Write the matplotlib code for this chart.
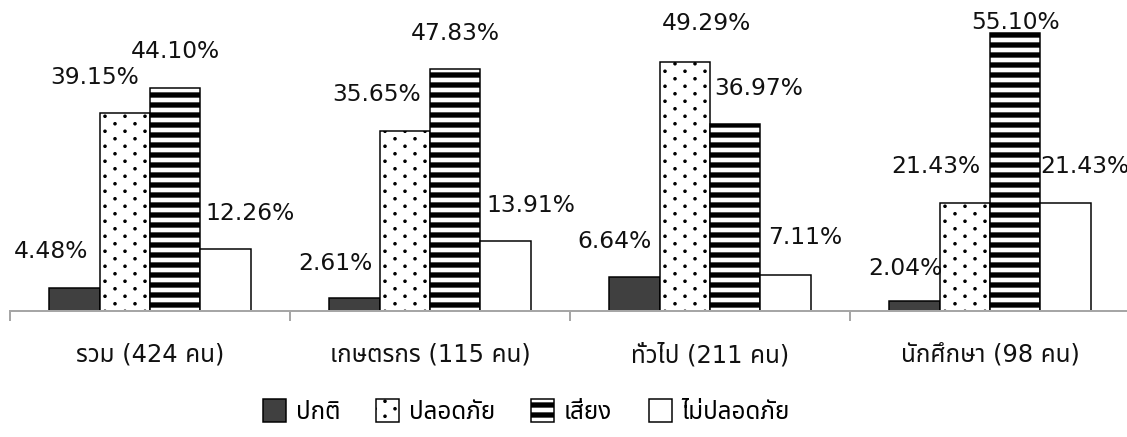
import matplotlib
matplotlib.use("Agg")
import matplotlib.pyplot as plt
from matplotlib import font_manager as fm
from matplotlib import hatch as mhatch
from matplotlib.path import Path
from matplotlib.patches import Patch
import numpy as np

# ---------------- data ----------------
categories = ["รวม (424 คน)", "เกษตรกร (115 คน)", "ทั่วไป (211 คน)", "นักศึกษา (98 คน)"]
series_names = ["ปกติ", "ปลอดภัย", "เสี่ยง", "ไม่ปลอดภัย"]
normal = [4.48, 2.61, 6.64, 2.04]
safe = [39.15, 35.65, 49.29, 21.43]
risk = [44.10, 47.83, 36.97, 55.10]
unsafe = [12.26, 13.91, 7.11, 21.43]
series_values = [normal, safe, risk, unsafe]

# label offsets (pixels, relative to bar top centre)
label_offsets = [
    [(-23, 37), (-19, 34), (-20, 36), (-9, 32)],
    [(-30, 36), (-28, 36), (22, 39), (-29, 36)],
    [(0, 37), (0, 36), (23, 36), (0, 10)],
    [(24, 36), (25, 35), (20, 38), (19, 36)],
]


# ---------------- staggered dot hatch (replaces '.') ----------------
class StaggerDots(mhatch.HatchPatternBase):
    filled = True

    def __init__(self, hatch, density):
        n = hatch.count('.')
        self.cols = 6 * n
        self.rows = 16 * n
        circ = Path.unit_circle()
        self.shape_vertices = circ.vertices
        self.shape_codes = circ.codes
        self.num_shapes = self.cols * self.rows
        self.num_vertices = self.num_shapes * len(self.shape_vertices)

    def set_vertices_and_codes(self, vertices, codes):
        r = 0.0065
        nv = len(self.shape_vertices)
        k = 0
        for row in range(self.rows):
            y = (row + 0.5) / self.rows
            shift = 0.25 if row % 2 == 0 else 0.75
            for c in range(self.cols):
                xx = (c + shift) / self.cols
                vertices[k:k + nv] = self.shape_vertices * r + [xx, y]
                codes[k:k + nv] = self.shape_codes
                k += nv


mhatch._hatch_types = [h for h in mhatch._hatch_types
                       if h is not mhatch.SmallFilledCircles] + [StaggerDots]


# ---------------- fonts ----------------
def find_thai_font():
    try:
        from fontTools.ttLib import TTFont
    except Exception:
        return None
    prefs = ["Tahoma", "Noto Sans Thai", "Noto Sans Thai UI", "Loma", "Garuda", "Sarabun",
             "TH Sarabun New", "Norasi", "Kinnari", "Waree", "Umpush", "Noto Serif Thai"]
    found = {}
    for f in fm.fontManager.ttflist:
        try:
            tt = TTFont(f.fname, fontNumber=0, lazy=True)
            cmap = tt.getBestCmap()
            if cmap and 0x0E01 in cmap and 0x0E2A in cmap:
                found.setdefault(f.name, f.fname)
        except Exception:
            continue
    for p in prefs:
        if p in found:
            return p
    if found:
        return sorted(found)[0]
    return None


thai = find_thai_font()
families = ["DejaVu Sans"] + ([thai] if thai else [])
plt.rcParams["font.family"] = families

DPI = 120
fig = plt.figure(figsize=(1127 / DPI, 437 / DPI), dpi=DPI)
W, H = 1127, 437
ax = fig.add_axes([10 / W, 126 / H, 1120 / W, 303 / H])

n_cat = len(categories)
x = np.arange(n_cat)
bw = 0.18
styles = [
    dict(facecolor="#404040", hatch=None, hlw=1.0),
    dict(facecolor="white", hatch=".", hlw=1.2),
    dict(facecolor="white", hatch="--", hlw=3.2),
    dict(facecolor="white", hatch=None, hlw=1.0),
]


def set_hlw(patch, lw):
    if hasattr(patch, "set_hatch_linewidth"):
        patch.set_hatch_linewidth(lw)
    else:
        patch._hatch_linewidth = lw


handles = []
for j, (vals, st) in enumerate(zip(series_values, styles)):
    with plt.rc_context({"hatch.linewidth": st["hlw"], "hatch.color": "black"}):
        bars = ax.bar(x + (j - 1.5) * bw, vals, width=bw, facecolor=st["facecolor"],
                      edgecolor="black", linewidth=0.9, hatch=st["hatch"], zorder=2)
        handles.append(Patch(facecolor=st["facecolor"], edgecolor="black", linewidth=0.9,
                             hatch=st["hatch"], label=series_names[j]))
    for b in bars:
        set_hlw(b, st["hlw"])
    for i, b in enumerate(bars):
        dx, dy = label_offsets[j][i]
        ax.annotate(f"{vals[i]:.2f}%", (b.get_x() + b.get_width() / 2, b.get_height()),
                    xytext=(dx, dy), textcoords="offset pixels", ha="center", va="center",
                    fontsize=14, color="#111111", zorder=3)

ax.set_xlim(-0.5, n_cat - 0.5)
ax.set_ylim(0, 60)
for s in ["top", "right", "left"]:
    ax.spines[s].set_visible(False)
ax.spines["bottom"].set_color("#a6a6a6")
ax.spines["bottom"].set_linewidth(1.2)
ax.set_yticks([])
ax.set_xticks(x)
ax.set_xticklabels(categories, fontsize=14.5, color="#111111")
ax.tick_params(axis="x", which="major", length=0, pad=19)
ax.set_xticks(np.arange(n_cat + 1) - 0.5, minor=True)
ax.tick_params(axis="x", which="minor", length=6, width=1.2, color="#a6a6a6")

leg = fig.legend(handles=handles, loc="center", bbox_to_anchor=(0.467, 0.058), ncol=4,
                 frameon=False, fontsize=14.5, handlelength=0.95, handleheight=1.05,
                 handletextpad=0.4, columnspacing=1.5)
for p, st in zip(leg.get_patches(), styles):
    set_hlw(p, st["hlw"])

fig.savefig("out.png", dpi=DPI)
